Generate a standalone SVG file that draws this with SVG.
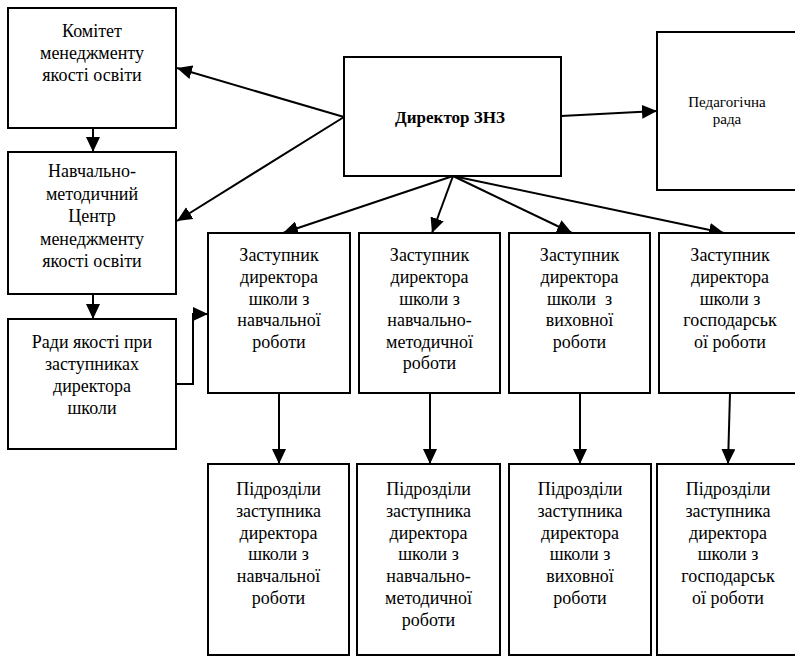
<svg xmlns="http://www.w3.org/2000/svg" width="795" height="656" viewBox="0 0 795 656">
<defs>
<marker id="ah" markerUnits="userSpaceOnUse" markerWidth="15" markerHeight="14" refX="15" refY="7" orient="auto">
<path d="M0,0 L15,7 L0,14 z" fill="#000"/>
</marker>
</defs>
<rect width="795" height="656" fill="#fff"/>
<g id="connectors" fill="none" stroke="#000" stroke-width="2">
<line x1="344" y1="117" x2="177" y2="68" marker-end="url(#ah)"/>
<line x1="344" y1="117" x2="177" y2="221" marker-end="url(#ah)"/>
<line x1="561" y1="116" x2="657" y2="111" marker-end="url(#ah)"/>
<line x1="453" y1="176" x2="283" y2="233" marker-end="url(#ah)"/>
<line x1="453" y1="176" x2="432" y2="233" marker-end="url(#ah)"/>
<line x1="453" y1="176" x2="572" y2="233" marker-end="url(#ah)"/>
<line x1="453" y1="176" x2="724" y2="233" marker-end="url(#ah)"/>
<line x1="93" y1="128" x2="93" y2="152" marker-end="url(#ah)"/>
<line x1="93" y1="294" x2="93" y2="319" marker-end="url(#ah)"/>
<polyline points="176,384 193,384 193,314 208,314" marker-end="url(#ah)"/>
<line x1="279" y1="393" x2="279" y2="464" marker-end="url(#ah)"/>
<line x1="430" y1="393" x2="430" y2="464" marker-end="url(#ah)"/>
<line x1="580" y1="393" x2="580" y2="464" marker-end="url(#ah)"/>
<line x1="730" y1="393" x2="728" y2="464" marker-end="url(#ah)"/>
</g>
<g id="nodes" font-family="'Liberation Serif',serif" font-size="18" text-anchor="middle" fill="#000">
<g id="komitet">
<rect x="8" y="8" width="168" height="120" fill="#fff" stroke="#000" stroke-width="2"/>
<text x="92" y="37">Комітет</text>
<text x="92" y="59">менеджменту</text>
<text x="92" y="81">якості освіти</text>
</g>
<g id="navch-centr">
<rect x="8" y="152" width="168" height="142" fill="#fff" stroke="#000" stroke-width="2"/>
<text x="92" y="177">Навчально-</text>
<text x="92" y="199.5">методичний</text>
<text x="92" y="222">Центр</text>
<text x="92" y="244.5">менеджменту</text>
<text x="92" y="267">якості освіти</text>
</g>
<g id="rady">
<rect x="8" y="319" width="168" height="130" fill="#fff" stroke="#000" stroke-width="2"/>
<text x="92" y="348">Ради якості при</text>
<text x="92" y="370">заступниках</text>
<text x="92" y="392">директора</text>
<text x="92" y="414">школи</text>
</g>
<g id="director">
<rect x="344" y="57" width="217" height="119" fill="#fff" stroke="#000" stroke-width="2"/>
<text x="450" y="123" font-size="17" font-weight="bold">Директор ЗНЗ</text>
</g>
<g id="ped-rada">
<rect x="657" y="32" width="142" height="158" fill="#fff" stroke="#000" stroke-width="2"/>
<text x="727" y="107" font-size="15">Педагогічна</text>
<text x="727" y="124" font-size="15">рада</text>
</g>
<g id="zast1">
<rect x="208" y="233" width="142" height="160" fill="#fff" stroke="#000" stroke-width="2"/>
<text x="279" y="261">Заступник</text>
<text x="279" y="283">директора</text>
<text x="279" y="304.5">школи з</text>
<text x="279" y="326">навчальної</text>
<text x="279" y="348">роботи</text>
</g>
<g id="zast2">
<rect x="359" y="233" width="141" height="160" fill="#fff" stroke="#000" stroke-width="2"/>
<text x="429.5" y="261">Заступник</text>
<text x="429.5" y="283">директора</text>
<text x="429.5" y="304.5">школи з</text>
<text x="429.5" y="326">навчально-</text>
<text x="429.5" y="348">методичної</text>
<text x="429.5" y="369">роботи</text>
</g>
<g id="zast3">
<rect x="509" y="233" width="141" height="160" fill="#fff" stroke="#000" stroke-width="2"/>
<text x="579.5" y="261">Заступник</text>
<text x="579.5" y="283">директора</text>
<text x="579.5" y="304.5" xml:space="preserve">школи  з</text>
<text x="579.5" y="326">виховної</text>
<text x="579.5" y="348">роботи</text>
</g>
<g id="zast4">
<rect x="659" y="233" width="142" height="160" fill="#fff" stroke="#000" stroke-width="2"/>
<text x="730" y="261">Заступник</text>
<text x="730" y="283">директора</text>
<text x="730" y="304.5">школи з</text>
<text x="730" y="326">господарськ</text>
<text x="730" y="348">ої роботи</text>
</g>
<g id="pidr1">
<rect x="208" y="464" width="141" height="191" fill="#fff" stroke="#000" stroke-width="2"/>
<text x="278.5" y="495">Підрозділи</text>
<text x="278.5" y="517">заступника</text>
<text x="278.5" y="538.5">директора</text>
<text x="278.5" y="560">школи з</text>
<text x="278.5" y="582">навчальної</text>
<text x="278.5" y="604">роботи</text>
</g>
<g id="pidr2">
<rect x="357" y="464" width="143" height="191" fill="#fff" stroke="#000" stroke-width="2"/>
<text x="428.5" y="495">Підрозділи</text>
<text x="428.5" y="517">заступника</text>
<text x="428.5" y="538.5">директора</text>
<text x="428.5" y="560">школи з</text>
<text x="428.5" y="582">навчально-</text>
<text x="428.5" y="604">методичної</text>
<text x="428.5" y="625.5">роботи</text>
</g>
<g id="pidr3">
<rect x="509" y="464" width="142" height="191" fill="#fff" stroke="#000" stroke-width="2"/>
<text x="580" y="495">Підрозділи</text>
<text x="580" y="517">заступника</text>
<text x="580" y="538.5">директора</text>
<text x="580" y="560">школи з</text>
<text x="580" y="582">виховної</text>
<text x="580" y="604">роботи</text>
</g>
<g id="pidr4">
<rect x="657" y="464" width="143" height="191" fill="#fff" stroke="#000" stroke-width="2"/>
<text x="728" y="495">Підрозділи</text>
<text x="728" y="517">заступника</text>
<text x="728" y="538.5">директора</text>
<text x="728" y="560">школи з</text>
<text x="728" y="582">господарськ</text>
<text x="728" y="604">ої роботи</text>
</g>
</g>
</svg>
